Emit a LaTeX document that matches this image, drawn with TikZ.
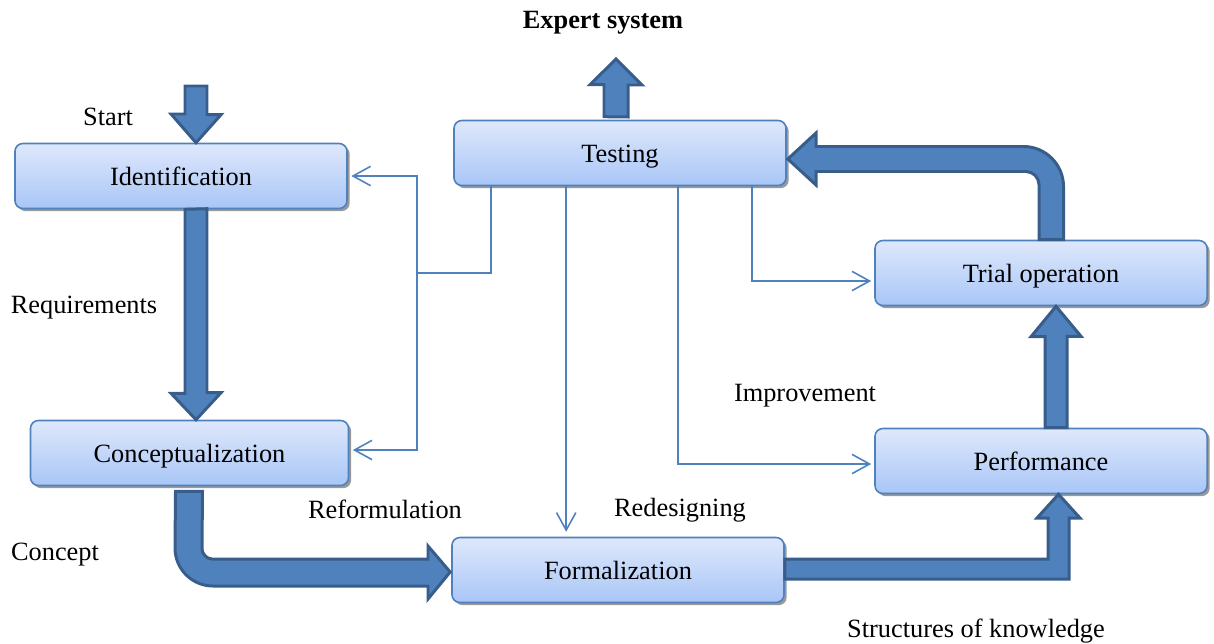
\documentclass[tikz,border=0pt]{standalone}
\usepackage{fontspec}
\setmainfont{Liberation Serif}
\usetikzlibrary{arrows.meta,calc,shadows}
\definecolor{edge}{HTML}{4F81BD}
\definecolor{deep}{HTML}{385D8A}
\definecolor{paletop}{HTML}{DEE8FB}
\definecolor{palebot}{HTML}{A9C6F7}
\tikzset{>={Straight Barb[length=10pt,width=11pt]},stage/.style={draw=edge,line width=0.9pt,rounded corners=4.5pt,top color=paletop,bottom color=palebot,minimum width=189pt,minimum height=37pt,text height=14pt,text depth=3pt,drop shadow={shadow xshift=1.5pt,shadow yshift=-1.5pt,fill=black!40,opacity=1}},link/.style={edge,line width=0.9pt},fat/.style={fill=edge,draw=deep,line width=1.7pt,line join=miter}}

\begin{document}
\begin{tikzpicture}[x=0.02cm,y=-0.02cm,font=\fontsize{15}{18}\selectfont]
\useasboundingbox (0,0) rectangle (1214,643);
\node[stage] (ident) at (181,176) {Identification};
\node[stage,minimum width=181pt] (concept) at (189.5,453) {Conceptualization};
\node[stage] (test) at (620,153) {Testing};
\node[stage] (formal) at (618,570) {Formalization};
\node[stage] (trial) at (1041,273) {Trial operation};
\node[stage] (perf) at (1041,461) {Performance};
\node[font=\fontsize{15}{18}\selectfont\bfseries] (expert) at (603,23) {Expert system};
\node (start) at (108,117) {Start};
\node (req) at (84,308) {Requirements};
\node (conc) at (55,555) {Concept};
\node (refo) at (385,509) {Reformulation};
\node (redes) at (680,510) {Redesigning};
\node (impr) at (805,396) {Improvement};
\node (struct) at (976,631) {Structures of knowledge};
\coordinate (entry) at (196,86);\coordinate (out) at (616,59);\coordinate (fork) at (417,273);
\coordinate (d1) at ($(test.south west)+(38,0)$);\coordinate (d2) at ($(test.south west)+(113,0)$);
\coordinate (d3) at ($(test.south west)+(225,0)$);\coordinate (d4) at ($(test.south west)+(299,0)$);
\draw[link] (d1) |- (fork);
\draw[link,->,shorten >=2pt] (fork) |- (ident.east);
\draw[link,->,shorten >=2pt] (fork) |- ($(concept.east)+(0,-3)$);
\draw[link,->,shorten >=2.8pt] (d2) -- (d2 |- formal.north);
\draw[link,->,shorten >=1.7pt] (d3) |- ($(perf.west)+(0,3)$);
\draw[link,->,shorten >=1.7pt] (d4) |- ($(trial.west)+(0,8)$);
\draw[fat] (entry) ++(-11,0) -- ++(0,28) -- ++(-14,0) -- (196,0 |- ident.north) -- ++(25,-28) -- ++(-14,0) |- (entry) -- cycle;
\draw[fat] (196,0 |- ident.south) ++(-11,0) -- ++(0,184) -- ++(-14,0) -- (196,0 |- concept.north) -- ++(25,-27) -- ++(-14,0) -- ++(0,-184) -- cycle;
\draw[fat] (616,0 |- test.north) ++(-12,-3) -- ++(0,-32) -- ++(-14,0) -- (out) -- ++(26,26) -- ++(-14,0) -- ++(0,32) -- cycle;
\draw[fat] (1056,0 |- perf.north) ++(-11,0) -- ++(0,-91) -- ++(-14,0) -- (1056,0 |- trial.south) -- ++(25,30) -- ++(-14,0) |- (1056,0 |- perf.north) -- cycle;
\draw[fat] (formal.east) ++(0,-11) -- (1048,559) -- (1048,518) -- ++(-11,0) -- (1058.5,0 |- perf.south) -- (1080,518) -- (1069,518) |- ($(formal.east)+(0,9)$) -- cycle;
\draw[fat] ($(concept.south)+(-14,5)$) -- (175,548) .. controls (175,569) and (192,586) .. (213,586) -- (428,586) -- (428,599) -- ($(formal.west)+(-1,2)$) -- (428,546) -- (428,559) -- (212,559) .. controls (206.5,559) and (202,553.5) .. (202,549) -- ($(concept.south)+(13,5)$) -- cycle;
\draw[fat] ($(trial.north)+(-2,0)$) -- (1039,184.5) .. controls (1039,177.5) and (1033,171.5) .. (1026,171.5) -- (816,171.5) -- (816,185) -- ($(test.east)+(1,6)$) -- (816,133) -- (816,146.5) -- (1023.5,146.5) .. controls (1045.5,146.5) and (1063.5,164.5) .. (1063.5,186.5) -- ($(trial.north)+(22.5,0)$) -- cycle;
\end{tikzpicture}
\end{document}
